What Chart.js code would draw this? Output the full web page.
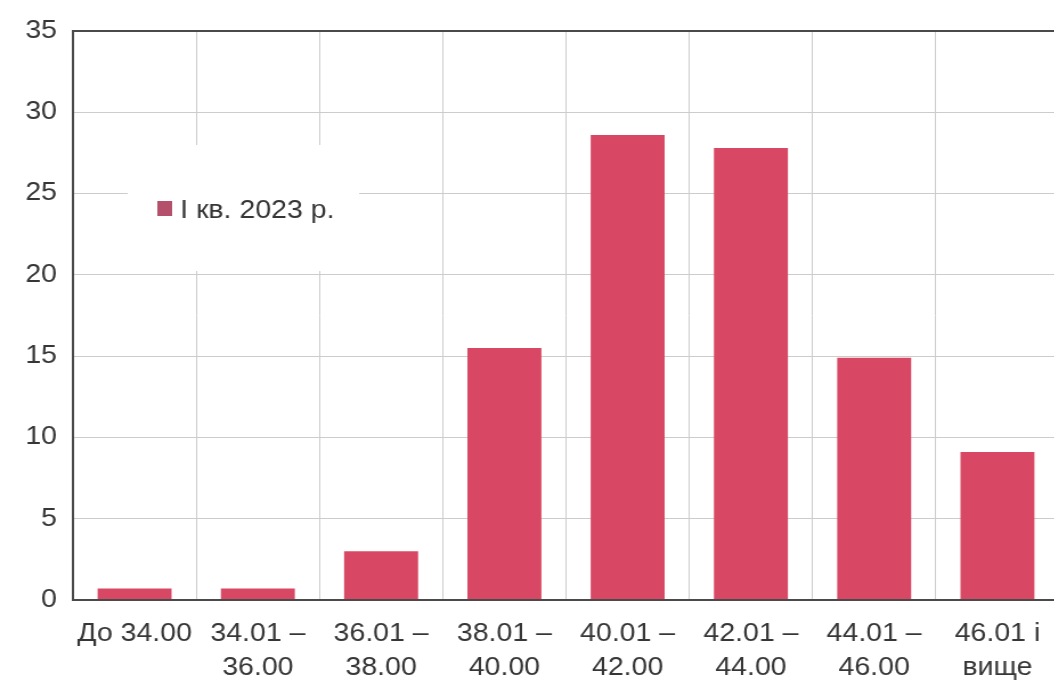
<!DOCTYPE html>
<html lang="uk">

<head>
    <meta charset="utf-8" />
    <title>Розподіл</title>
    <script src="https://cdn.jsdelivr.net/npm/chart.js"></script>
    <style>
        html, body { margin: 0; padding: 0; background: #fff; overflow: hidden; }
        /* the source picture is stretched sideways, so the chart is too */
        #wrap {
            position: absolute; left: 0; top: 0;
            width: 933px; height: 682px;
            transform: scale(1.14, 1); transform-origin: 0 0;
        }
    </style>
</head>

<body>
    <div id="wrap"><canvas id="chart"></canvas></div>

    <script>
        const categories = [
            ['До 34.00'],
            ['34.01 –', '36.00'],
            ['36.01 –', '38.00'],
            ['38.01 –', '40.00'],
            ['40.01 –', '42.00'],
            ['42.01 –', '44.00'],
            ['44.01 –', '46.00'],
            ['46.01 і', 'вище']
        ];
        const seriesName = 'I кв. 2023 р.';
        const values = [0.7, 0.7, 3.0, 15.5, 28.6, 27.8, 14.9, 9.1];
        const yMin = 0, yMax = 35, yStep = 5;

        const FONT = { family: '"Liberation Sans", Arial, sans-serif', size: 25, lineHeight: 1.36 };
        const TEXT = '#363636';

        // frame (top, left, bottom) + legend box inside the plot
        const frameAndLegend = {
            id: 'frameAndLegend',
            afterDatasetsDraw(chart) {
                const ctx = chart.ctx, a = chart.chartArea;
                ctx.save();
                ctx.strokeStyle = '#4a4a4a';
                ctx.lineWidth = 2;
                ctx.beginPath();
                ctx.moveTo(a.right, a.top);
                ctx.lineTo(a.left, a.top);
                ctx.lineTo(a.left, a.bottom);
                ctx.lineTo(a.right, a.bottom);
                ctx.stroke();

                // legend
                const ds = chart.data.datasets[0];
                const bx = a.left + 48, by = a.top + 114;
                ctx.fillStyle = '#ffffff';
                ctx.fillRect(bx, by, 203, 126);
                ctx.fillStyle = '#b5506c';
                ctx.fillRect(bx + 26, by + 56, 13, 15);
                ctx.fillStyle = TEXT;
                ctx.font = '25px ' + FONT.family;
                ctx.textBaseline = 'middle';
                ctx.fillText(ds.label, bx + 46, by + 66);
                ctx.restore();
            }
        };

        new Chart(document.getElementById('chart'), {
            type: 'bar',
            data: {
                labels: categories,
                datasets: [{
                    label: seriesName,
                    data: values,
                    backgroundColor: '#d84864',
                    borderWidth: 0,
                    barPercentage: 0.6,
                    categoryPercentage: 1.0
                }]
            },
            options: {
                responsive: true,
                maintainAspectRatio: false,
                animation: false,
                layout: { padding: { top: 28, right: 4, left: 0, bottom: 0 } },
                plugins: {
                    legend: { display: false },
                    tooltip: { enabled: false }
                },
                scales: {
                    x: {
                        grid: { color: '#cccccc', lineWidth: 1, drawTicks: false, offset: true },
                        border: { display: false },
                        ticks: { color: TEXT, font: FONT, padding: 17, maxRotation: 0, autoSkip: false },
                        afterFit(scale) { scale.height = 82; }
                    },
                    y: {
                        min: yMin,
                        max: yMax,
                        grid: { color: '#cccccc', lineWidth: 1, drawTicks: false },
                        border: { display: false },
                        ticks: { stepSize: yStep, color: TEXT, font: FONT, padding: 14 },
                        afterFit(scale) { scale.width = 64; }
                    }
                }
            },
            plugins: [frameAndLegend]
        });
    </script>
</body>
</html>
